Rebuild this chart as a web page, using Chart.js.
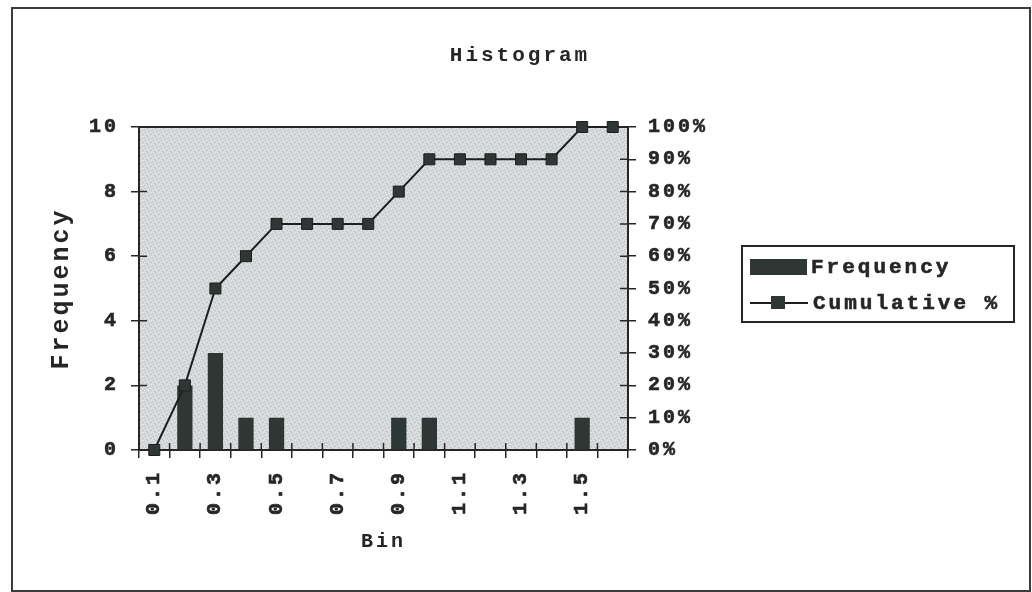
<!DOCTYPE html>
<html>
<head>
<meta charset="utf-8">
<title>Histogram</title>
<style>
  html, body { margin: 0; padding: 0; background: #ffffff; }
  #wrap { width: 1032px; height: 592px; position: relative; }
  canvas { display: block; }
</style>
<script src="https://cdn.jsdelivr.net/npm/chart.js@4.4.1/dist/chart.umd.min.js"></script>
</head>
<body>
<div id="wrap"><canvas id="histChart" width="1032" height="592"></canvas></div>
<script>
// Bin upper limits (the last bucket collects everything above 1.5)
const bins = ['0.1', '0.2', '0.3', '0.4', '0.5', '0.6', '0.7', '0.8',
              '0.9', '1.0', '1.1', '1.2', '1.3', '1.4', '1.5', 'More'];

// Count of observations per bin
const frequency = [0, 2, 3, 1, 1, 0, 0, 0, 1, 1, 0, 0, 0, 0, 1, 0];

// Running share of all observations, in percent
const cumulativePct = [0, 20, 50, 60, 70, 70, 70, 70, 80, 90, 90, 90, 90, 90, 100, 100];

// Axis ranges
const freqAxis = { min: 0, max: 10, step: 2 };
const pctAxis = { min: 0, max: 100, step: 10 };

const INK = '#262626';
const BAR_FILL = '#2f3735';
const MONO = '"Liberation Mono", "Courier New", Courier, monospace';
const SPACING = '3px';

// Stippled grey fill for the plot area
function makeStipple() {
  const t = document.createElement('canvas');
  t.width = 8; t.height = 8;
  const g = t.getContext('2d');
  g.fillStyle = '#d5d8da';
  g.fillRect(0, 0, 8, 8);
  const dark = [[0,1],[3,0],[6,2],[1,4],[5,5],[2,7],[7,6],[4,3]];
  const light = [[2,2],[7,0],[0,6],[4,6],[6,4],[3,5],[5,1],[1,0]];
  g.fillStyle = '#bfc3c5';
  dark.forEach(([x, y]) => g.fillRect(x, y, 1, 1));
  g.fillStyle = '#e9ebec';
  light.forEach(([x, y]) => g.fillRect(x, y, 1, 1));
  return t;
}

const framePlugin = {
  id: 'frame',
  beforeUpdate(chart) { chart.ctx.letterSpacing = SPACING; },
  beforeDraw(chart) {
    const { ctx, chartArea: a } = chart;
    ctx.letterSpacing = SPACING;
    ctx.save();
    // outer frame around the whole chart
    ctx.strokeStyle = '#3c3c3c';
    ctx.lineWidth = 2;
    ctx.strokeRect(12, 8, 1018, 583);
    // plot area fill
    ctx.fillStyle = ctx.createPattern(makeStipple(), 'repeat');
    ctx.fillRect(a.left, a.top, a.right - a.left, a.bottom - a.top);
    ctx.restore();
  },
  beforeDatasetsDraw(chart) {
    const { ctx, chartArea: a, scales } = chart;
    ctx.save();
    ctx.strokeStyle = INK;
    ctx.lineWidth = 2;
    ctx.strokeRect(a.left, a.top, a.right - a.left, a.bottom - a.top);
    // inner halves of the tick marks
    ctx.lineWidth = 1.5;
    ctx.beginPath();
    scales.y.ticks.forEach(t => {
      const py = scales.y.getPixelForValue(t.value);
      ctx.moveTo(a.left, py); ctx.lineTo(a.left + 8, py);
    });
    scales.y1.ticks.forEach(t => {
      const py = scales.y1.getPixelForValue(t.value);
      ctx.moveTo(a.right - 8, py); ctx.lineTo(a.right, py);
    });
    for (let i = 0; i <= bins.length; i++) {
      const px = scales.x.getPixelForValue(i - 0.5);
      ctx.moveTo(px, a.bottom - 7); ctx.lineTo(px, a.bottom);
    }
    ctx.stroke();
    ctx.restore();
  },
  afterDraw(chart) {
    // boxed legend to the right of the plot
    const { ctx } = chart;
    const barSet = chart.data.datasets.find(d => d.type === 'bar');
    const lineSet = chart.data.datasets.find(d => d.type === 'line');
    ctx.save();
    ctx.letterSpacing = SPACING;
    ctx.strokeStyle = INK;
    ctx.lineWidth = 2;
    ctx.strokeRect(742, 246, 272, 76);
    ctx.fillStyle = barSet.backgroundColor;
    ctx.fillRect(750, 259, 57, 16);
    ctx.beginPath();
    ctx.moveTo(750, 303); ctx.lineTo(808, 303);
    ctx.strokeStyle = lineSet.borderColor;
    ctx.lineWidth = 2;
    ctx.stroke();
    ctx.fillStyle = lineSet.pointBackgroundColor;
    ctx.fillRect(771, 296, 14, 13);
    ctx.fillStyle = INK;
    ctx.strokeStyle = INK;
    ctx.lineWidth = 0.6;
    ctx.font = 'bold 21px ' + MONO;
    ctx.textBaseline = 'middle';
    ctx.textAlign = 'left';
    ctx.fillText(barSet.label, 811, 268);
    ctx.strokeText(barSet.label, 811, 268);
    ctx.fillText(lineSet.label, 813, 304);
    ctx.strokeText(lineSet.label, 813, 304);
    ctx.restore();
  }
};

const tickFont = { family: MONO, size: 20, weight: 'bold' };

new Chart(document.getElementById('histChart'), {
  type: 'bar',
  data: {
    labels: bins,
    datasets: [
      {
        type: 'line',
        label: 'Cumulative %',
        data: cumulativePct,
        yAxisID: 'y1',
        borderColor: '#1e1e1e',
        borderWidth: 2,
        pointStyle: 'rect',
        pointRadius: 7.8,
        pointBackgroundColor: BAR_FILL,
        pointBorderColor: '#1e1e1e',
        pointBorderWidth: 1,
        tension: 0,
        clip: false,
        order: 0
      },
      {
        type: 'bar',
        label: 'Frequency',
        data: frequency,
        yAxisID: 'y',
        backgroundColor: BAR_FILL,
        borderWidth: 0,
        barPercentage: 0.5,
        categoryPercentage: 1.0,
        order: 1
      }
    ]
  },
  options: {
    responsive: false,
    animation: false,
    devicePixelRatio: 1,
    layout: { padding: { left: 40, right: 32, top: 0, bottom: 0 } },
    plugins: {
      legend: { display: false },
      tooltip: { enabled: false },
      title: {
        display: true,
        text: 'Histogram',
        color: INK,
        font: { family: MONO, size: 21, weight: 'bold', lineHeight: 1.2 },
        padding: { top: 43, bottom: 58.8 }
      }
    },
    scales: {
      x: {
        offset: true,
        afterFit(s) { s.height = 142; },
        grid: {
          offset: true,
          drawOnChartArea: false,
          drawTicks: true,
          tickLength: 8,
          color: INK,
          lineWidth: 1.5
        },
        border: { display: true, color: INK, width: 2 },
        ticks: {
          autoSkip: false,
          minRotation: 90,
          maxRotation: 90,
          padding: 12,
          color: INK,
          textStrokeColor: INK,
          textStrokeWidth: 0.6,
          font: tickFont,
          callback(value, index) { return index % 2 === 0 ? bins[index] : ''; }
        },
        title: {
          display: true,
          text: 'Bin',
          color: INK,
          font: { family: MONO, size: 20, weight: 'bold', lineHeight: 1.2 },
          padding: { top: 0, bottom: 38 }
        }
      },
      y: {
        position: 'left',
        min: freqAxis.min,
        max: freqAxis.max,
        afterFit(s) { s.width = 99; },
        grid: {
          drawOnChartArea: false,
          drawTicks: true,
          tickLength: 8,
          color: INK,
          lineWidth: 1.5
        },
        border: { display: true, color: INK, width: 2 },
        ticks: {
          stepSize: freqAxis.step,
          padding: 12,
          color: INK,
          textStrokeColor: INK,
          textStrokeWidth: 0.6,
          font: tickFont
        },
        title: {
          display: true,
          text: 'Frequency',
          color: INK,
          font: { family: MONO, size: 25, weight: 'bold', lineHeight: 1.2 },
          padding: { top: 7, bottom: 0 }
        }
      },
      y1: {
        position: 'right',
        min: pctAxis.min,
        max: pctAxis.max,
        afterFit(s) { s.width = 372; },
        grid: {
          drawOnChartArea: false,
          drawTicks: true,
          tickLength: 8,
          color: INK,
          lineWidth: 1.5
        },
        border: { display: true, color: INK, width: 2 },
        ticks: {
          stepSize: pctAxis.step,
          padding: 12,
          color: INK,
          textStrokeColor: INK,
          textStrokeWidth: 0.6,
          font: tickFont,
          callback(value) { return value + '%'; }
        }
      }
    }
  },
  plugins: [framePlugin]
});
</script>
</body>
</html>
